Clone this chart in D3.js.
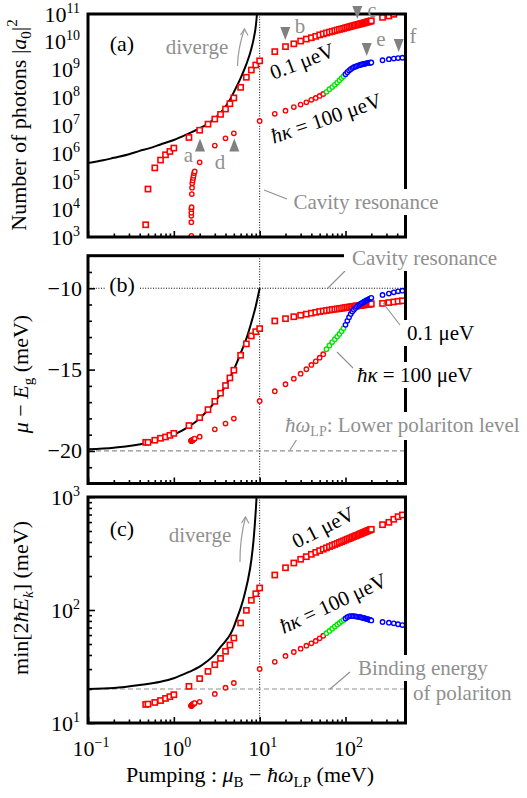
<!DOCTYPE html>
<html>
<head>
<meta charset="utf-8">
<script src="https://cdn.jsdelivr.net/npm/d3@7"></script>
<style>
  body { margin: 0; background: #fff; }
  svg text { font-family: "Liberation Serif", "Times New Roman", Times, serif; }
</style>
</head>
<body>
<svg id="fig" width="527" height="798"></svg>
<script>
// ---------- data ----------
// pumping (meV) for the 0.1 ueV series (squares)
const pumpSquares = [0.47, 0.5, 0.6, 0.7, 0.8, 0.9, 1.0, 1.5, 2, 2.5, 3, 3.5, 4, 4.5, 5, 6, 7, 8, 9, 10,
  15, 20, 25, 30, 35, 40, 45, 50, 55, 60, 65, 70, 75, 80, 85, 90, 95, 100, 105, 110, 115, 120, 125, 130,
  135, 140, 145, 150, 155, 160, 165, 170, 175, 180, 185, 190, 195, 200, 270, 320, 365, 410, 460];
const photonsSquares = [2.75e3, 5.25e4, 3.02e5, 5.75e5, 8.91e5, 1.17e6, 1.55e6, 3.72e6, 6.76e6, 1.12e7,
  1.7e7, 2.51e7, 3.89e7, 6.03e7, 9.77e7, 2.34e8, 5.37e8, 9.77e8, 1.48e9, 2.09e9,
  4.47e9, 6.76e9, 8.51e9, 1.07e10, 1.26e10, 1.41e10, 1.58e10, 1.78e10, 1.93e10, 2.09e10, 2.24e10, 2.37e10,
  2.51e10, 2.66e10, 2.79e10, 2.92e10, 3.05e10, 3.2e10, 3.31e10, 3.47e10, 3.59e10, 3.72e10, 3.85e10, 3.98e10,
  4.07e10, 4.22e10, 4.32e10, 4.47e10, 4.57e10, 4.68e10, 4.79e10, 4.95e10, 5.07e10, 5.19e10, 5.31e10, 5.43e10,
  5.56e10, 5.69e10, 7.59e10, 8.51e10, 9.77e10, 1.1e11, 1.23e11];
const muSquares = [-19.47, -19.47, -19.34, -19.22, -19.14, -19.04, -18.92, -18.44, -17.95, -17.46, -16.95,
  -16.45, -15.98, -15.51, -15.04, -14.12, -13.42, -12.93, -12.67, -12.48,
  -12.01, -11.87, -11.75, -11.66, -11.59, -11.53, -11.48, -11.43, -11.40, -11.37, -11.34, -11.31, -11.29,
  -11.27, -11.25, -11.23, -11.21, -11.19, -11.17, -11.16, -11.14, -11.13, -11.11, -11.10, -11.09, -11.08,
  -11.06, -11.05, -11.04, -11.03, -11.02, -11.01, -11.00, -10.99, -10.98, -10.97, -10.97, -10.96,
  -10.93, -10.88, -10.84, -10.80, -10.77];
const gapSquares = [14.6, 14.7, 15.2, 15.8, 16.5, 17.1, 17.8, 21.1, 24.7, 28.6, 32.8, 37.3, 43.1, 49, 56.5,
  76.7, 99.3, 121.9, 139.3, 156.7,
  204, 236.6, 260.6, 281.2, 296.5, 311.2, 323.6, 335, 345.1, 354.8, 363.9, 372.4, 380.2, 388.1, 395.4, 402.7,
  409.3, 415.9, 422.7, 428.5, 434.5, 440.6, 446.7, 451.9, 457.1, 462.4, 467.7, 473.2, 477.5, 483.1, 487.5,
  492, 496.6, 501.2, 505.8, 509.3, 514, 517.6, 568.9, 597, 635.3, 669.9, 693.4];

// pumping (meV) for the 100 ueV series (circles)
const pumpCircles = [1.60, 1.60, 1.60, 1.60, 1.60, 1.61, 1.62, 1.63, 1.64, 1.66, 1.68, 1.70, 1.72, 1.75,
  2, 3, 4, 5, 10,
  15, 20, 25, 30, 35, 40, 45, 50, 55, 60, 65, 70, 75, 80, 85, 90, 95, 100, 105, 110, 115, 120, 125, 130,
  135, 140, 145, 150, 155, 160, 165, 170, 175, 180, 185, 190, 195, 200, 270, 320, 365, 410, 460];
const photonsCircles = [1.1e3, 3.39e3, 5.75e3, 7.41e3, 1.0e4, 1.17e4, 3.47e4, 5.89e4, 8.51e4, 1.07e5, 1.32e5,
  1.58e5, 1.95e5, 2.24e5,
  4.79e5, 1.91e6, 3.47e6, 5.25e6, 1.45e7,
  2.63e7, 3.39e7, 4.57e7, 5.62e7, 6.76e7, 8.32e7, 9.77e7, 1.15e8, 1.35e8, 1.62e8, 2.0e8, 2.4e8, 2.88e8,
  3.47e8, 4.17e8, 5.01e8, 5.89e8, 6.92e8, 8.13e8, 9.33e8, 1.05e9, 1.15e9, 1.23e9, 1.29e9, 1.35e9, 1.41e9,
  1.46e9, 1.51e9, 1.55e9, 1.58e9, 1.62e9, 1.66e9, 1.70e9, 1.74e9, 1.76e9, 1.78e9, 1.80e9, 1.82e9,
  2.19e9, 2.4e9, 2.51e9, 2.63e9, 2.69e9];
const muCircles = [-19.38, -19.38, -19.38, -19.37, -19.37, -19.37, -19.36, -19.35, -19.34, -19.33, -19.31,
  -19.29, -19.27, -19.24,
  -19.12, -18.67, -18.32, -18.01, -16.93,
  -16.33, -15.9, -15.56, -15.25, -14.98, -14.71, -14.49, -14.27, -14.05, -13.75, -13.52, -13.31, -13.13,
  -12.97, -12.81, -12.64, -12.46, -12.25, -12.0, -11.78, -11.58, -11.43, -11.32, -11.22, -11.14, -11.07,
  -11.01, -10.96, -10.91, -10.87, -10.83, -10.79, -10.75, -10.72, -10.68, -10.65, -10.62, -10.59,
  -10.41, -10.33, -10.25, -10.19, -10.15];
const gapCircles = [14.2, 14.2, 14.2, 14.2, 14.25, 14.3, 14.35, 14.4, 14.5, 14.6, 14.7, 14.8, 14.9, 15.0,
  15.4, 18.1, 20.5, 22.6, 30.1,
  34.8, 39.2, 42.5, 45.5, 48.3, 50.7, 53.2, 56.2, 59.2, 62.4, 65.3, 68.4, 71.3, 74.1, 76.7, 79.4, 81.7,
  84.1, 86.5, 87.9, 88.3, 88.3, 88.1, 87.9, 87.5, 87.1, 86.7, 86.3, 85.7, 85.3, 84.7, 84.1, 83.6, 83.2,
  82.6, 82.0, 81.5, 80.9, 78.3, 77.3, 76.2, 74.8, 73.6];
// pumping where the 100 ueV solution changes character
const phaseGreenFrom = 60;
const phaseBlueFrom = 100;

// zero-loss (analytic) curves
const pumpCurveA = [0.1, 0.15, 0.2, 0.3, 0.4, 0.5, 0.7, 1, 1.5, 2, 2.5, 3, 3.5, 4, 4.5, 5, 6, 7, 8, 8.5, 9, 9.3, 9.5];
const photonsCurve = [4.47e5, 5.62e5, 6.92e5, 9.33e5, 1.23e6, 1.48e6, 2.09e6, 3.02e6, 5.25e6, 7.94e6, 1.17e7,
  1.78e7, 2.88e7, 4.79e7, 8.32e7, 1.58e8, 5.01e8, 1.58e9, 5.62e9, 1.26e10, 3.55e10, 1e11, 3e11];
const pumpCurveB = [0.1, 0.2, 0.5, 1, 2, 3, 4, 5, 6, 7, 8, 9, 10];
const muCurve = [-19.9, -19.8, -19.5, -19, -18, -17, -16, -15, -14, -13.1, -12.1, -11.1, -10];
const pumpCurveC = [0.1, 0.2, 0.4, 0.7, 1, 1.5, 2, 2.4, 3, 3.4, 4, 4.5, 5, 5.35, 6, 6.4, 7, 7.3, 8, 8.5, 9, 9.2, 9.4];
const gapCurve = [20.0, 20.4, 21.7, 23.2, 24.9, 28.3, 31.5, 34.8, 40.5, 45.8, 53, 60.1, 71, 81.7, 104, 122,
  160, 184, 277, 420, 750, 1000, 1500];

// reference levels
const cavityResonance = 10;   // meV pumping
const cavityMu = -10;         // meV
const lowerPolariton = -20;   // meV
const bindingEnergy = 20;     // meV

// axis ticks
const xMajor = [0.1, 1, 10, 100];
const xMajorExp = ["\u22121", "0", "1", "2"];
const yMajorA = [1e3, 1e4, 1e5, 1e6, 1e7, 1e8, 1e9, 1e10, 1e11];
const yMajorAExp = ["3", "4", "5", "6", "7", "8", "9", "10", "11"];
const yMajorB = [-20, -15, -10];
const yMajorC = [10, 100, 1000];
const yMajorCExp = ["1", "2", "3"];

// ---------- drawing ----------
const svg = d3.select("#fig");
const GRAY = "#8f8f8f";
const RED = "#ff0000", GREEN = "#00e600", BLUE = "#0000ff";

const L = 88, R = 405.5;
const x = d3.scaleLog().domain([0.1, 500]).range([L, R]);
const yA = d3.scaleLog().domain([1e3, 1e11]).range([237, 14]);
const yB = d3.scaleLinear().domain([-22, -8]).range([483.5, 255.7]);
const yC = d3.scaleLog().domain([10, 1000]).range([723, 497]);

const xMinor = [];
[0.1, 1, 10, 100].forEach(d => { for (let k = 2; k <= 9; k++) { const v = d * k; if (v < 500) xMinor.push(v); } });

function phaseColor(p) {
  if (p >= phaseBlueFrom) return BLUE;
  if (p >= phaseGreenFrom) return GREEN;
  return RED;
}

function makePanel(id, y) {
  const [y0, y1] = y.range();
  const g = svg.append("g").attr("id", id);
  g.append("clipPath").attr("id", "clip-" + id)
    .append("rect").attr("x", L).attr("y", y1).attr("width", R - L).attr("height", y0 - y1);
  const plot = g.append("g").attr("clip-path", `url(#clip-${id})`);
  // bottom ticks pointing inward
  const bMaj = g.append("g").attr("transform", `translate(0,${y0})`)
    .call(d3.axisTop(x).tickValues(xMajor).tickSize(6).tickFormat(""));
  const bMin = g.append("g").attr("transform", `translate(0,${y0})`)
    .call(d3.axisTop(x).tickValues(xMinor).tickSize(3.5).tickFormat(""));
  [bMaj, bMin].forEach(a => {
    a.select(".domain").remove();
    a.selectAll("line").attr("stroke", "#000").attr("stroke-width", 1.6);
  });
  return { g, plot, y0, y1 };
}

function frame(p) {
  p.g.append("rect").attr("x", L).attr("y", p.y1).attr("width", R - L).attr("height", p.y0 - p.y1)
    .attr("fill", "none").attr("stroke", "#000").attr("stroke-width", 3);
}

function leftTicks(p, major, minor, lenMaj, lenMin) {
  const y = p.yScale;
  [[major, lenMaj], [minor, lenMin]].forEach(([vals, len]) => {
    const a = p.g.append("g").attr("transform", `translate(${L},0)`)
      .call(d3.axisRight(y).tickValues(vals).tickSize(len).tickFormat(""));
    a.select(".domain").remove();
    a.selectAll("line").attr("stroke", "#000").attr("stroke-width", 1.6);
  });
}

function cavityLine(p) {
  p.plot.append("line").attr("x1", x(cavityResonance)).attr("x2", x(cavityResonance))
    .attr("y1", p.y1).attr("y2", p.y0)
    .attr("stroke", "#000").attr("stroke-width", 1).attr("stroke-dasharray", "1,1.6");
}

function curve(p, xs, ys, y) {
  const pts = xs.map((v, i) => [v, ys[i]]);
  p.plot.append("path").datum(pts)
    .attr("d", d3.line().x(d => x(d[0])).y(d => y(d[1])).curve(d3.curveMonotoneX))
    .attr("fill", "none").attr("stroke", "#000").attr("stroke-width", 2);
}

function markers(p, y, xsS, ysS, xsC, ysC) {
  const [lo, hi] = y.domain();
  const sq = xsS.map((v, i) => [v, ysS[i]]).filter(d => d[1] >= lo && d[1] <= hi);
  const ci = xsC.map((v, i) => [v, ysC[i]]).filter(d => d[1] >= lo && d[1] <= hi);
  const s = 5.2;
  p.plot.append("g").selectAll("rect").data(sq).join("rect")
    .attr("x", d => x(d[0]) - s / 2).attr("y", d => y(d[1]) - s / 2)
    .attr("width", s).attr("height", s)
    .attr("fill", "#fff").attr("stroke", RED).attr("stroke-width", 1.6);
  p.plot.append("g").selectAll("circle").data(ci).join("circle")
    .attr("cx", d => x(d[0])).attr("cy", d => y(d[1])).attr("r", 2.2)
    .attr("fill", "#fff").attr("stroke", d => phaseColor(d[0])).attr("stroke-width", 1.4);
}

function powLabel(parent, px, py, base, exp, anchor) {
  const t = parent.append("text").attr("x", px).attr("y", py).attr("text-anchor", anchor)
    .attr("font-size", 22).attr("fill", "#000");
  t.append("tspan").text(base);
  t.append("tspan").attr("font-size", 14).attr("dy", -9).text(exp);
  return t;
}

function bgText(parent, px, py, str, opts = {}) {
  const t = parent.append("text").attr("x", px).attr("y", py)
    .attr("font-size", opts.size || 21).attr("fill", opts.color || GRAY)
    .attr("text-anchor", opts.anchor || "start");
  if (typeof str === "function") str(t); else t.text(str);
  if (opts.bg) {
    const b = t.node().getBBox();
    const pad = opts.pad || 2;
    parent.insert("rect", () => t.node())
      .attr("x", b.x - pad).attr("y", b.y - 1).attr("width", b.width + 2 * pad).attr("height", b.height + 2)
      .attr("fill", "#fff");
  }
  return t;
}

function leader(parent, x1, y1, x2, y2) {
  parent.append("line").attr("x1", x1).attr("y1", y1).attr("x2", x2).attr("y2", y2)
    .attr("stroke", GRAY).attr("stroke-width", 1.1);
}

function tri(parent, cx, tipY, up) {
  const w = 10, h = 13;
  const baseY = up ? tipY + h : tipY - h;
  parent.append("path").attr("d", `M${cx - w / 2},${baseY}L${cx + w / 2},${baseY}L${cx},${tipY}Z`)
    .attr("fill", "#808080");
}

function divergeArrow(parent, x1, y1, x2, y2) {
  const mx = (x1 + x2) / 2 - 3, my = (y1 + y2) / 2;
  parent.append("path").attr("d", `M${x1},${y1}Q${mx},${my} ${x2},${y2}`)
    .attr("fill", "none").attr("stroke", "#9a9a9a").attr("stroke-width", 1.2);
  parent.append("path").attr("d", `M${x2 - 4},${y2 + 6}L${x2},${y2}L${x2 + 3.5},${y2 + 6.5}`)
    .attr("fill", "none").attr("stroke", "#9a9a9a").attr("stroke-width", 1.2);
}

// ---- panel (a) ----
const pa = makePanel("pa", yA); pa.yScale = yA;
cavityLine(pa);
curve(pa, pumpCurveA, photonsCurve, yA);
markers(pa, yA, pumpSquares, photonsSquares, pumpCircles, photonsCircles);
frame(pa);

// ---- panel (b) ----
const pb = makePanel("pb", yB); pb.yScale = yB;
cavityLine(pb);
pb.plot.append("line").attr("x1", L).attr("x2", R).attr("y1", yB(cavityMu)).attr("y2", yB(cavityMu))
  .attr("stroke", "#000").attr("stroke-width", 1).attr("stroke-dasharray", "1,1.6");
pb.plot.append("line").attr("x1", L).attr("x2", R).attr("y1", yB(lowerPolariton)).attr("y2", yB(lowerPolariton))
  .attr("stroke", GRAY).attr("stroke-width", 1.2).attr("stroke-dasharray", "5,3");
curve(pb, pumpCurveB, muCurve, yB);
markers(pb, yB, pumpSquares, muSquares, pumpCircles, muCircles);
frame(pb);
leftTicks(pb, yMajorB, d3.range(-21, -8).filter(v => v % 5 !== 0), 7, 4);

// ---- panel (c) ----
const pc = makePanel("pc", yC); pc.yScale = yC;
cavityLine(pc);
pc.plot.append("line").attr("x1", L).attr("x2", R).attr("y1", yC(bindingEnergy)).attr("y2", yC(bindingEnergy))
  .attr("stroke", GRAY).attr("stroke-width", 1.2).attr("stroke-dasharray", "5,3");
curve(pc, pumpCurveC, gapCurve, yC);
markers(pc, yC, pumpSquares, gapSquares, pumpCircles, gapCircles);
frame(pc);
const cMinor = [];
[10, 100].forEach(d => { for (let k = 2; k <= 9; k++) cMinor.push(d * k); });
leftTicks(pc, yMajorC, cMinor, 7, 4);

// ---- tick labels ----
const lab = svg.append("g");
yMajorA.forEach((v, i) => powLabel(lab, 80, yA(v) + 7.5, "10", yMajorAExp[i], "end"));
yMajorB.forEach(v => lab.append("text").attr("x", 82).attr("y", yB(v) + 7.5).attr("text-anchor", "end")
  .attr("font-size", 22).text(d3.format("")(v).replace("-", "\u2212")));
yMajorC.forEach((v, i) => powLabel(lab, 80, yC(v) + 7.5, "10", yMajorCExp[i], "end"));
xMajor.forEach((v, i) => powLabel(lab, x(v) + 3, 756, "10", xMajorExp[i], "middle"));

// ---- axis titles ----
function rotTitle(cx, cy, build) {
  const t = svg.append("text").attr("transform", `translate(${cx},${cy}) rotate(-90)`)
    .attr("text-anchor", "middle").attr("font-size", 22);
  build(t);
}
rotTitle(26, 125, t => {
  t.append("tspan").text("Number of photons |");
  t.append("tspan").attr("font-style", "italic").text("a");
  t.append("tspan").attr("font-size", 15).attr("dy", 5).text("0");
  t.append("tspan").attr("dy", -5).text("|");
  t.append("tspan").attr("font-size", 15).attr("dy", -9).text("2");
});
rotTitle(28, 374, t => {
  t.append("tspan").attr("font-style", "italic").text("\u03bc");
  t.append("tspan").text(" \u2212 ");
  t.append("tspan").attr("font-style", "italic").text("E");
  t.append("tspan").attr("font-size", 15).attr("dy", 5).text("g");
  t.append("tspan").attr("dy", -5).text(" (meV)");
});
rotTitle(28, 598, t => {
  t.append("tspan").text("min[2");
  t.append("tspan").attr("font-style", "italic").text("\u0127E");
  t.append("tspan").attr("font-size", 15).attr("font-style", "italic").attr("dy", 5).text("k");
  t.append("tspan").attr("dy", -5).text("] (meV)");
});
{
  const t = svg.append("text").attr("x", 250).attr("y", 782).attr("text-anchor", "middle").attr("font-size", 22);
  t.append("tspan").text("Pumping : ");
  t.append("tspan").attr("font-style", "italic").text("\u03bc");
  t.append("tspan").attr("font-size", 15).attr("dy", 5).text("B");
  t.append("tspan").attr("dy", -5).text(" \u2212 ");
  t.append("tspan").attr("font-style", "italic").text("\u0127\u03c9");
  t.append("tspan").attr("font-size", 15).attr("dy", 5).text("LP");
  t.append("tspan").attr("dy", -5).text(" (meV)");
}

// ---- annotations ----
const ann = svg.append("g");
// panel letters
bgText(ann, 122, 51, "(a)", { color: "#000", anchor: "middle", size: 22 });
bgText(ann, 122, 291.5, "(b)", { color: "#000", anchor: "middle", size: 22, bg: true, pad: 4 });
bgText(ann, 122, 536, "(c)", { color: "#000", anchor: "middle", size: 22 });

// divergence hints
bgText(ann, 197, 54, "diverge", { anchor: "middle" });
divergeArrow(ann, 237.5, 66, 244.5, 29);
bgText(ann, 200, 542, "diverge", { anchor: "middle" });
divergeArrow(ann, 240, 562, 245.5, 517);

// state markers a-f
tri(ann, 200, 138.5, true); bgText(ann, 188.5, 162, "a", { anchor: "middle" });
tri(ann, 234.3, 138.5, true); bgText(ann, 220, 169, "d", { anchor: "middle" });
tri(ann, 285.3, 40, false); bgText(ann, 300, 33, "b", { anchor: "middle" });
tri(ann, 357.3, 19, false); bgText(ann, 372, 17, "c", { anchor: "middle", size: 20 });
tri(ann, 366.7, 56, false); bgText(ann, 381, 46, "e", { anchor: "middle" });
tri(ann, 398.7, 52, false); bgText(ann, 413, 43, "f", { anchor: "middle" });

// cavity resonance labels
leader(ann, 264, 190, 287, 199);
bgText(ann, 366, 209, "Cavity resonance", { anchor: "middle", bg: true, pad: 4 });
leader(ann, 328, 288, 345, 271);
bgText(ann, 352, 265, "Cavity resonance", { bg: true, pad: 8 });

// series labels, panel (a)
function kappaLabel(t) {
  t.append("tspan").attr("font-style", "italic").text("\u0127\u03ba");
  t.append("tspan").text(" = 100 \u03bceV");
}
function rotLabel(cx, cy, angle, build) {
  const t = ann.append("text").attr("transform", `translate(${cx},${cy}) rotate(${angle})`)
    .attr("text-anchor", "middle").attr("dy", "0.35em").attr("font-size", 21).attr("fill", "#000");
  if (typeof build === "function") build(t); else t.text(build);
}
rotLabel(302, 61, -21, "0.1 \u03bceV");
rotLabel(326, 118, -19, kappaLabel);

// series labels, panel (b)
leader(ann, 383, 303, 400, 325);
bgText(ann, 407, 340, "0.1 \u03bceV", { color: "#000", bg: true, pad: 3 });
leader(ann, 337, 352, 353, 368);
bgText(ann, 357, 382, kappaLabel, { color: "#000", bg: true, pad: 3 });
leader(ann, 290, 450, 297, 439);
bgText(ann, 285, 432, t => {
  t.append("tspan").attr("font-style", "italic").text("\u0127\u03c9");
  t.append("tspan").attr("font-size", 14).attr("dy", 4).text("LP");
  t.append("tspan").attr("dy", -4).text(": Lower polariton level");
}, { bg: true, pad: 3 });

// series labels, panel (c)
rotLabel(323, 527, -27, "0.1 \u03bceV");
rotLabel(333, 603, -25, kappaLabel);
leader(ann, 330, 689, 350, 672);
bgText(ann, 358, 675, "Binding energy", { bg: true, pad: 3 });
bgText(ann, 413, 700, "of polariton", { bg: true, pad: 3 });
</script>
</body>
</html>
